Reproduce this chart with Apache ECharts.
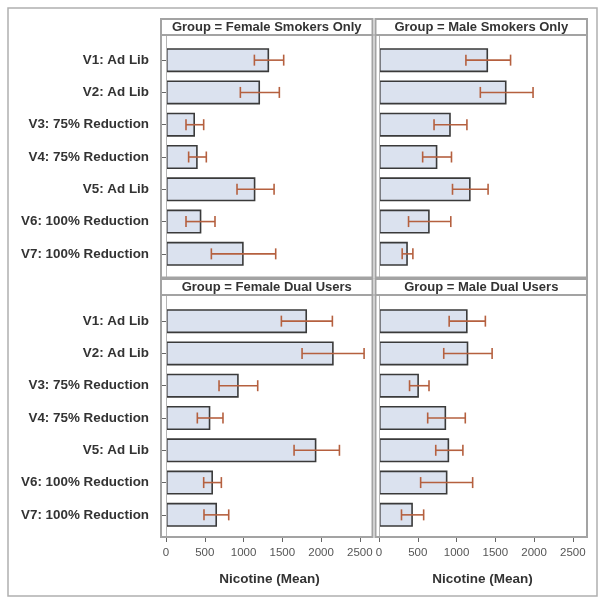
<!DOCTYPE html>
<html>
<head>
<meta charset="utf-8">
<script src="https://cdn.jsdelivr.net/npm/echarts@6/dist/echarts.min.js"></script>
<style>html,body{margin:0;padding:0;background:#fff}#c{width:604px;height:604px}</style>
</head>
<body>
<div id="c"></div>
<script>
const categories = ['V1: Ad Lib','V2: Ad Lib','V3: 75% Reduction','V4: 75% Reduction','V5: Ad Lib','V6: 100% Reduction','V7: 100% Reduction'];
const xTicks = [0, 500, 1000, 1500, 2000, 2500];
const panelTitles = ['Group = Female Smokers Only','Group = Male Smokers Only','Group = Female Dual Users','Group = Male Dual Users'];
const xTitle = 'Nicotine (Mean)';

// Female Smokers Only
const fsoMean = [1330, 1213, 374, 409, 1153, 456, 1002];
const fsoLow  = [1140, 959, 258, 292, 916, 258, 585];
const fsoHigh = [1518, 1462, 486, 520, 1394, 632, 1415];
// Male Smokers Only
const msoMean = [1407, 1645, 926, 753, 1182, 654, 372];
const msoLow  = [1121, 1307, 710, 563, 948, 381, 299];
const msoHigh = [1697, 1987, 1134, 935, 1407, 926, 437];
// Female Dual Users
const fduMean = [1819, 2163, 938, 572, 1940, 606, 658];
const fduLow  = [1488, 1755, 684, 404, 1652, 486, 490];
const fduHigh = [2146, 2555, 1183, 735, 2237, 714, 809];
// Male Dual Users
const mduMean = [1143, 1152, 515, 866, 905, 883, 437];
const mduLow  = [905, 835, 394, 628, 732, 537, 290];
const mduHigh = [1372, 1459, 645, 1113, 1082, 1208, 576];

const panels = [
  {mean: fsoMean, low: fsoLow, high: fsoHigh},
  {mean: msoMean, low: msoLow, high: msoHigh},
  {mean: fduMean, low: fduLow, high: fduHigh},
  {mean: mduMean, low: mduLow, high: mduHigh}
];

const FONT = '"Liberation Sans", Arial, sans-serif';
const FRAME = '#a3a3a3';
const ERR = '#b5603f';
const X_MAX = 2670;

// layout (pixels)
const gridLefts = [166, 379, 166, 379];
const gridTops = [44, 44, 305, 305];
const GRID_W = 207, GRID_H = 226;
const frameX = [[161, 372.5], [375.5, 587], [161, 372.5], [375.5, 587]];
const headerY = [[19, 35], [19, 35], [279, 295], [279, 295]];
const plotY = [[35, 277.5], [35, 277.5], [295, 537], [295, 537]];

const grids = [], xAxes = [], yAxes = [], series = [], graphics = [];
panels.forEach((p, i) => {
  const isBottom = i >= 2, isLeft = i % 2 === 0;
  grids.push({left: gridLefts[i], top: gridTops[i], width: GRID_W, height: GRID_H, containLabel: false});
  xAxes.push({
    type: 'value', gridIndex: i, min: 0, max: X_MAX, interval: 500,
    show: isBottom, offset: 6,
    splitLine: {show: false},
    axisLine: {show: false},
    axisTick: {show: true, length: 5, customValues: xTicks, lineStyle: {color: '#666', width: 1}},
    axisLabel: {show: true, customValues: xTicks, margin: 10, color: '#555', fontFamily: FONT, fontSize: 11.5,
      formatter: function (v) { return String(v); }},
    name: isBottom ? xTitle : '', nameLocation: 'middle', nameGap: 35,
    nameTextStyle: {fontFamily: FONT, fontWeight: 'bold', fontSize: 13.5, color: '#333'}
  });
  yAxes.push({
    type: 'category', gridIndex: i, data: categories, inverse: true,
    offset: 5,
    axisLine: {show: false},
    axisTick: {show: isLeft, alignWithLabel: true, length: 5, lineStyle: {color: '#666'}},
    axisLabel: {show: isLeft, margin: 12, color: '#333', fontFamily: FONT, fontWeight: 'bold', fontSize: 13.4},
    splitLine: {show: false}
  });
  series.push({
    type: 'bar', xAxisIndex: i, yAxisIndex: i, data: p.mean, barWidth: 24,
    itemStyle: {color: '#dbe2ef', borderColor: '#3a3a3a', borderWidth: 1.6},
    z: 2, silent: true
  });
  series.push({
    type: 'custom', xAxisIndex: i, yAxisIndex: i, z: 5, silent: true,
    data: p.mean.map((m, k) => [k, p.low[k], p.high[k]]),
    encode: {y: 0, x: [1, 2]},
    renderItem: function (params, api) {
      const idx = api.value(0);
      const a = api.coord([api.value(1), idx]);
      const b = api.coord([api.value(2), idx]);
      const h = 5.5;
      const st = {stroke: ERR, lineWidth: 1.6};
      return {type: 'group', children: [
        {type: 'line', shape: {x1: a[0], y1: a[1], x2: b[0], y2: b[1]}, style: st},
        {type: 'line', shape: {x1: a[0], y1: a[1] - h, x2: a[0], y2: a[1] + h}, style: st},
        {type: 'line', shape: {x1: b[0], y1: b[1] - h, x2: b[0], y2: b[1] + h}, style: st}
      ]};
    }
  });
  const fx = frameX[i], hy = headerY[i], py = plotY[i];
  graphics.push({type: 'rect', z: 10, shape: {x: fx[0], y: hy[0], width: fx[1] - fx[0], height: hy[1] - hy[0]},
    style: {fill: '#fff', stroke: FRAME, lineWidth: 2}});
  graphics.push({type: 'text', z: 11, x: (fx[0] + fx[1]) / 2, y: (hy[0] + hy[1]) / 2 + 0.5,
    style: {text: panelTitles[i], fontFamily: FONT, fontWeight: 'bold', fontSize: 13, fill: '#333', align: 'center', verticalAlign: 'middle'}});
  graphics.push({type: 'rect', z: 10, shape: {x: fx[0], y: py[0], width: fx[1] - fx[0], height: py[1] - py[0]},
    style: {fill: 'none', stroke: FRAME, lineWidth: 2}});
  graphics.push({type: 'line', z: 9, shape: {x1: gridLefts[i] + 0.5, y1: py[0], x2: gridLefts[i] + 0.5, y2: py[1]},
    style: {stroke: '#b5b5b5', lineWidth: 1}});
});
graphics.push({type: 'rect', z: 1, shape: {x: 8, y: 8, width: 589, height: 588},
  style: {fill: 'none', stroke: '#b0b0b0', lineWidth: 1.5}});

const chart = echarts.init(document.getElementById('c'), null, {renderer: 'canvas'});
chart.setOption({
  animation: false,
  backgroundColor: '#fff',
  grid: grids, xAxis: xAxes, yAxis: yAxes, series: series, graphic: graphics
});
</script>
</body>
</html>
